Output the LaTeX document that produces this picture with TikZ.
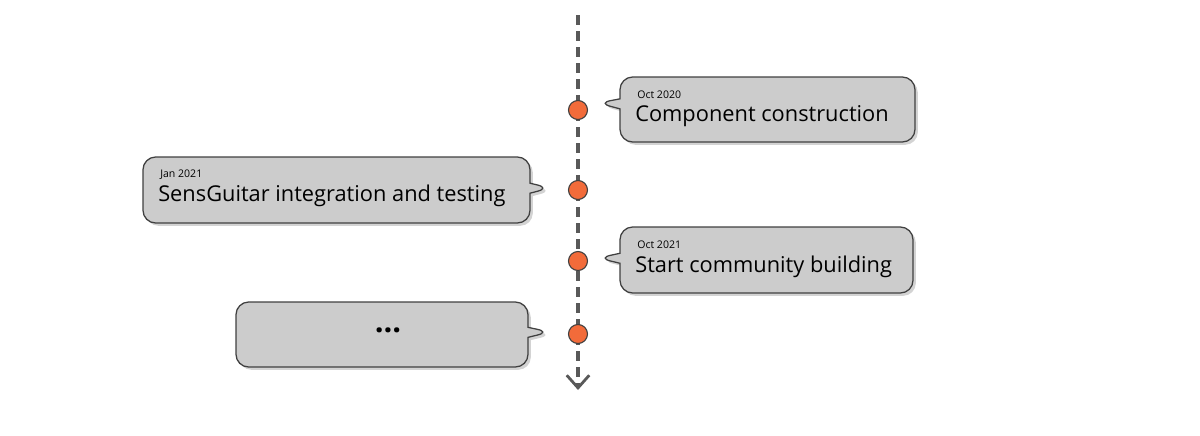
\documentclass[tikz,border=0pt]{standalone}
\usepackage{fontspec}
\setmainfont{Open Sans}
\usetikzlibrary{positioning, arrows.meta, shapes.callouts, shadows}
\definecolor{dotorange}{HTML}{F26B3A}
\definecolor{boxgrey}{HTML}{CCCCCC}
\tikzset{
  event/.style={rectangle callout, draw=black!75, fill=boxgrey, line width=0.9pt,
    rounded corners=9pt, drop shadow={shadow xshift=2pt, shadow yshift=-2pt, opacity=0.35},
    inner sep=0pt},
  milestone/.style={circle, draw=black!75, fill=dotorange, line width=0.8pt,
    minimum size=19\unitlength, inner sep=0pt},
  datelabel/.style={anchor=west, font=\fontsize{7.5}{9}\selectfont, inner sep=0pt},
  tasklabel/.style={anchor=west, font=\fontsize{15.5}{18}\selectfont, inner sep=0pt}
}
\setlength{\unitlength}{0.025cm}
\begin{document}
\begin{tikzpicture}[x=0.025cm, y=-0.025cm]
  \useasboundingbox (0,0) rectangle (1200,435);
  % timeline
  \coordinate (top) at (578,15);
  \coordinate (bottom) at (578,390);
  \draw[black!65, line width=2.2pt, dash pattern=on 10\unitlength off 6\unitlength,
    -{Straight Barb[length=9pt, width=16pt, line width=2pt]}] (top) -- (bottom);
  % callouts
  \node[event, minimum width=295\unitlength, minimum height=65\unitlength,
    callout absolute pointer={(598,103)}] (e1) at (767.5,109.5) {};
  \node[event, minimum width=387\unitlength, minimum height=66\unitlength,
    callout absolute pointer={(550,188)}] (e2) at (336.5,190) {};
  \node[event, minimum width=293\unitlength, minimum height=66\unitlength,
    callout absolute pointer={(598,258)}] (e3) at (766.5,260) {};
  \node[event, minimum width=292\unitlength, minimum height=65\unitlength,
    callout absolute pointer={(550,332)}] (e4) at (382,334.5) {};
  % milestones
  \node[milestone] (m1) at (578,110) {};
  \node[milestone] (m2) at (578,190) {};
  \node[milestone] (m3) at (578,261) {};
  \node[milestone] (m4) at (578,334) {};
  % texts
  \node[datelabel] (d1) at (637,95) {Oct 2020};
  \node[tasklabel] (t1) at (635,116) {Component construction};
  \node[datelabel] (d2) at (160,175) {Jan 2021};
  \node[tasklabel] (t2) at (158,196) {SensGuitar integration and testing};
  \node[datelabel] (d3) at (637,245) {Oct 2021};
  \node[tasklabel] (t3) at (635,267) {Start community building};
  \node[font=\fontsize{22}{24}\selectfont\bfseries] (t4) at (388,330) {...};
\end{tikzpicture}
\end{document}
